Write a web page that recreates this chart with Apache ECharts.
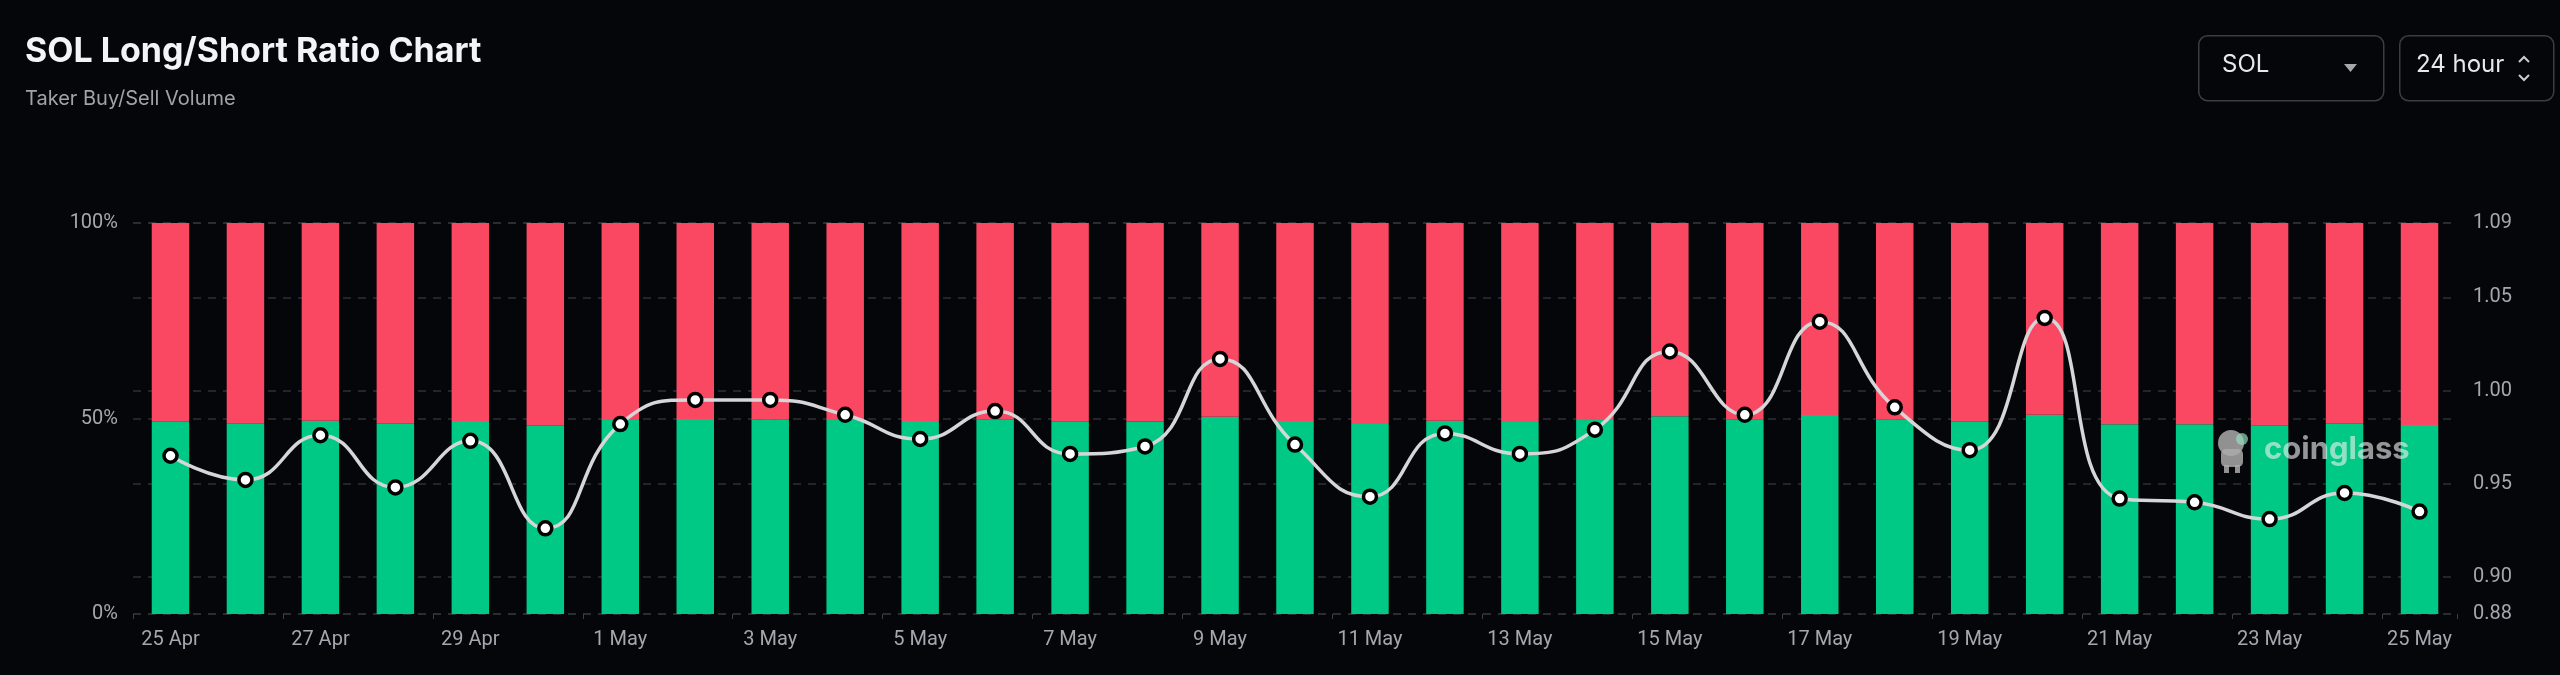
<!DOCTYPE html>
<html>
<head>
<meta charset="utf-8">
<script src="https://cdn.jsdelivr.net/npm/echarts@6/dist/echarts.min.js"></script>
<style>
  html, body { margin: 0; padding: 0; background: #05060a; }
  #chart { width: 2560px; height: 675px; }
</style>
</head>
<body>
<div id="chart"></div>
<script>
// ---- Data ----
const dates = ['25 Apr','26 Apr','27 Apr','28 Apr','29 Apr','30 Apr',
  '1 May','2 May','3 May','4 May','5 May','6 May','7 May','8 May','9 May','10 May',
  '11 May','12 May','13 May','14 May','15 May','16 May','17 May','18 May','19 May','20 May',
  '21 May','22 May','23 May','24 May','25 May'];

const longPct = [49.18, 48.77, 49.44, 48.68, 49.36, 48.17, 49.62, 49.87, 49.79, 49.62,
  49.36, 49.79, 49.18, 49.24, 50.47, 49.36, 48.59, 49.44, 49.10, 49.62,
  50.55, 49.79, 50.90, 49.79, 49.18, 50.98, 48.50, 48.50, 48.25, 48.68, 48.34];

const shortPct = [50.82, 51.23, 50.56, 51.32, 50.64, 51.83, 50.38, 50.13, 50.21, 50.38,
  50.64, 50.21, 50.82, 50.76, 49.53, 50.64, 51.41, 50.56, 50.90, 50.38,
  49.45, 50.21, 49.10, 50.21, 50.82, 49.02, 51.50, 51.50, 51.75, 51.32, 51.66];

const ratio = [0.965, 0.952, 0.976, 0.948, 0.973, 0.926, 0.982, 0.995, 0.995, 0.987,
  0.974, 0.989, 0.966, 0.970, 1.017, 0.971, 0.943, 0.977, 0.966, 0.979,
  1.021, 0.987, 1.037, 0.991, 0.968, 1.039, 0.942, 0.940, 0.931, 0.945, 0.935];

const titleText = 'SOL Long/Short Ratio Chart';
const subtitleText = 'Taker Buy/Sell Volume';
const symbolText = 'SOL';
const periodText = '24 hour';
const watermarkText = 'coinglass';

// ---- Chart ----
const chart = echarts.init(document.getElementById('chart'), null, { renderer: 'canvas' });
const axisLabelColor = '#a4a7ae';
const gridColor = '#2e3137';
const font = 'Roboto, "Noto Sans", sans-serif';

const option = {
  backgroundColor: '#05060a',
  animation: false,
  title: {
    text: titleText,
    subtext: subtitleText,
    left: 20,
    top: 30,
    itemGap: 20,
    textStyle: { color: '#f2f4f7', fontSize: 34, fontWeight: 'bold', fontFamily: 'Inter, Roboto, sans-serif' },
    subtextStyle: { color: '#a0a3aa', fontSize: 20, fontFamily: 'Inter, Roboto, sans-serif' }
  },
  grid: { left: 133, right: 103, top: 223, bottom: 61, containLabel: false },
  xAxis: {
    type: 'category',
    data: dates,
    boundaryGap: true,
    axisLine: { show: false },
    axisTick: { show: true, interval: 1, length: 5, lineStyle: { color: '#3b3e45' } },
    axisLabel: { interval: 1, color: axisLabelColor, fontSize: 20, margin: 16, fontFamily: font },
    splitLine: { show: false }
  },
  yAxis: [
    {
      type: 'value', position: 'left', min: 0, max: 100, interval: 50,
      axisLine: { show: false }, axisTick: { show: false },
      axisLabel: { formatter: '{value}%', color: axisLabelColor, fontSize: 20, margin: 15, fontFamily: font },
      splitLine: { show: true, lineStyle: { color: gridColor, type: [8, 7], width: 1.5 } }
    },
    {
      type: 'value', position: 'right', min: 0.88, max: 1.09, splitNumber: 5,
      axisLine: { show: false }, axisTick: { show: false },
      axisLabel: { formatter: v => v.toFixed(2), color: axisLabelColor, fontSize: 20, margin: 16, fontFamily: font },
      splitLine: { show: true, lineStyle: { color: gridColor, type: [8, 7], width: 1.5 } }
    }
  ],
  series: [
    {
      name: 'Long', type: 'bar', stack: 'ls', data: longPct, barWidth: '50%',
      itemStyle: { color: '#00c986' }, z: 2
    },
    {
      name: 'Short', type: 'bar', stack: 'ls', data: shortPct, barWidth: '50%',
      itemStyle: { color: '#fa4863' }, z: 2
    },
    {
      name: 'Long/Short Ratio', type: 'line', yAxisIndex: 1, data: ratio,
      smooth: 0.5, symbol: 'circle', symbolSize: 13, showAllSymbol: true,
      lineStyle: { color: '#d6d6d8', width: 3.5 },
      itemStyle: { color: '#ffffff', borderColor: '#000000', borderWidth: 3.5 },
      z: 5
    }
  ],
  graphic: [
    // symbol selector
    { type: 'rect', left: 2198, top: 35, shape: { width: 185, height: 65, r: 9 },
      style: { fill: 'transparent', stroke: '#3a3d44', lineWidth: 1.5 }, z: 10 },
    { type: 'text', left: 2222, top: 53, style: { text: symbolText, fill: '#e6e8ec', font: '24px Inter, Roboto, sans-serif' }, z: 10 },
    { type: 'polygon', shape: { points: [[2344, 64], [2357, 64], [2350.5, 72]] }, style: { fill: '#a4a7ae' }, z: 10 },
    // period selector
    { type: 'rect', left: 2399, top: 35, shape: { width: 154, height: 65, r: 9 },
      style: { fill: 'transparent', stroke: '#3a3d44', lineWidth: 1.5 }, z: 10 },
    { type: 'text', left: 2416, top: 53, style: { text: periodText, fill: '#e6e8ec', font: '24px Inter, Roboto, sans-serif' }, z: 10 },
    { type: 'polyline', shape: { points: [[2519, 62], [2524, 57], [2529, 62]] }, style: { stroke: '#c9ccd2', lineWidth: 2, fill: null }, z: 10 },
    { type: 'polyline', shape: { points: [[2519, 75], [2524, 80], [2529, 75]] }, style: { stroke: '#c9ccd2', lineWidth: 2, fill: null }, z: 10 },
    // watermark
    { type: 'group', left: 2218, top: 430, z: 20, children: [
      { type: 'circle', shape: { cx: 16, cy: 16, r: 13 }, style: { fill: 'rgba(170,170,170,0.85)' } },
      { type: 'rect', shape: { x: 6, y: 22, width: 22, height: 18, r: 5 }, style: { fill: 'rgba(170,170,170,0.85)' } },
      { type: 'circle', shape: { cx: 27, cy: 12, r: 6 }, style: { fill: 'rgba(150,220,190,0.7)' } },
      { type: 'rect', shape: { x: 9, y: 38, width: 5, height: 8 }, style: { fill: 'rgba(170,170,170,0.85)' } },
      { type: 'rect', shape: { x: 20, y: 38, width: 5, height: 8 }, style: { fill: 'rgba(170,170,170,0.85)' } }
    ]},
    { type: 'text', left: 2264, top: 434, z: 20,
      style: { text: watermarkText, fill: 'rgba(235,240,238,0.62)', font: 'bold 31px Inter, Roboto, sans-serif' } }
  ]
};
chart.setOption(option);
</script>
</body>
</html>
